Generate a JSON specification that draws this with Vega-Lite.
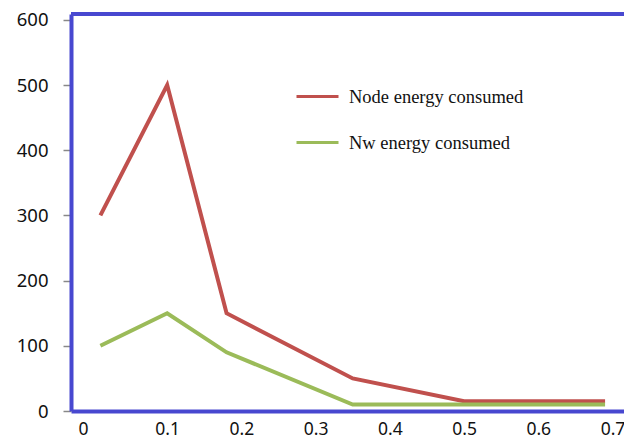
{
  "$schema": "https://vega.github.io/schema/vega-lite/v6.json",
  "width": 553,
  "height": 397,
  "autosize": {"type": "none"},
  "padding": {"left": 71, "top": 14, "right": 0, "bottom": 29},
  "background": "white",
  "config": {"view": {"stroke": null}},
  "data": {"values": [
    {"x": 0.01, "v": 300, "s": "Node energy consumed"},
    {"x": 0.1, "v": 500, "s": "Node energy consumed"},
    {"x": 0.18, "v": 150, "s": "Node energy consumed"},
    {"x": 0.35, "v": 50, "s": "Node energy consumed"},
    {"x": 0.5, "v": 15, "s": "Node energy consumed"},
    {"x": 0.69, "v": 15, "s": "Node energy consumed"},
    {"x": 0.01, "v": 100, "s": "Nw energy consumed"},
    {"x": 0.1, "v": 150, "s": "Nw energy consumed"},
    {"x": 0.18, "v": 90, "s": "Nw energy consumed"},
    {"x": 0.35, "v": 10, "s": "Nw energy consumed"},
    {"x": 0.5, "v": 10, "s": "Nw energy consumed"},
    {"x": 0.69, "v": 10, "s": "Nw energy consumed"}
  ]},
  "layer": [
    {
      "mark": {"type": "line", "strokeWidth": 4},
      "encoding": {
        "x": {"field": "x", "type": "quantitative",
          "scale": {"domain": [-0.0296, 0.7155], "nice": false, "zero": false},
          "axis": {"title": null, "values": [0, 0.1, 0.2, 0.3, 0.4, 0.5, 0.6, 0.7], "grid": false, "ticks": false,
            "labelExpr": "datum.value === 0 ? '0' : format(datum.value, '.1f')",
            "labelOffset": {"condition": {"test": "datum.value === 0", "value": -10}, "value": 0},
            "domainColor": "#4848d0", "domainWidth": 4, "labelFont": "Noto Sans", "labelFontSize": 17.5, "labelColor": "#111",
            "labelPadding": 9, "labelFlush": false, "labelOverlap": false}},
        "y": {"field": "v", "type": "quantitative",
          "scale": {"domain": [0, 609], "nice": false},
          "axis": {"title": null, "values": [0, 100, 200, 300, 400, 500, 600], "grid": false, "tickColor": "#888", "tickSize": 8, "tickWidth": 1.5,
            "domainColor": "#4848d0", "domainWidth": 4, "labelFont": "Noto Sans", "labelFontSize": 18.5, "labelColor": "#111",
            "labelPadding": 15, "labelFlush": false, "labelOverlap": false}},
        "color": {"field": "s", "type": "nominal",
          "scale": {"domain": ["Node energy consumed", "Nw energy consumed"], "range": ["#c0504d", "#9bbb59"]},
          "legend": {"title": null, "orient": "none", "legendX": 224, "legendY": 60, "padding": 0,
            "symbolType": "stroke", "symbolSize": 1764, "symbolStrokeWidth": 3, "rowPadding": 14,
            "labelFont": "Liberation Serif", "labelFontSize": 18.5, "labelColor": "#111", "labelOffset": 9, "labelLimit": 400}}
      }
    },
    {
      "mark": {"type": "rule", "color": "#4848d0", "strokeWidth": 4},
      "encoding": {"y": {"datum": 609}}
    }
  ]
}
